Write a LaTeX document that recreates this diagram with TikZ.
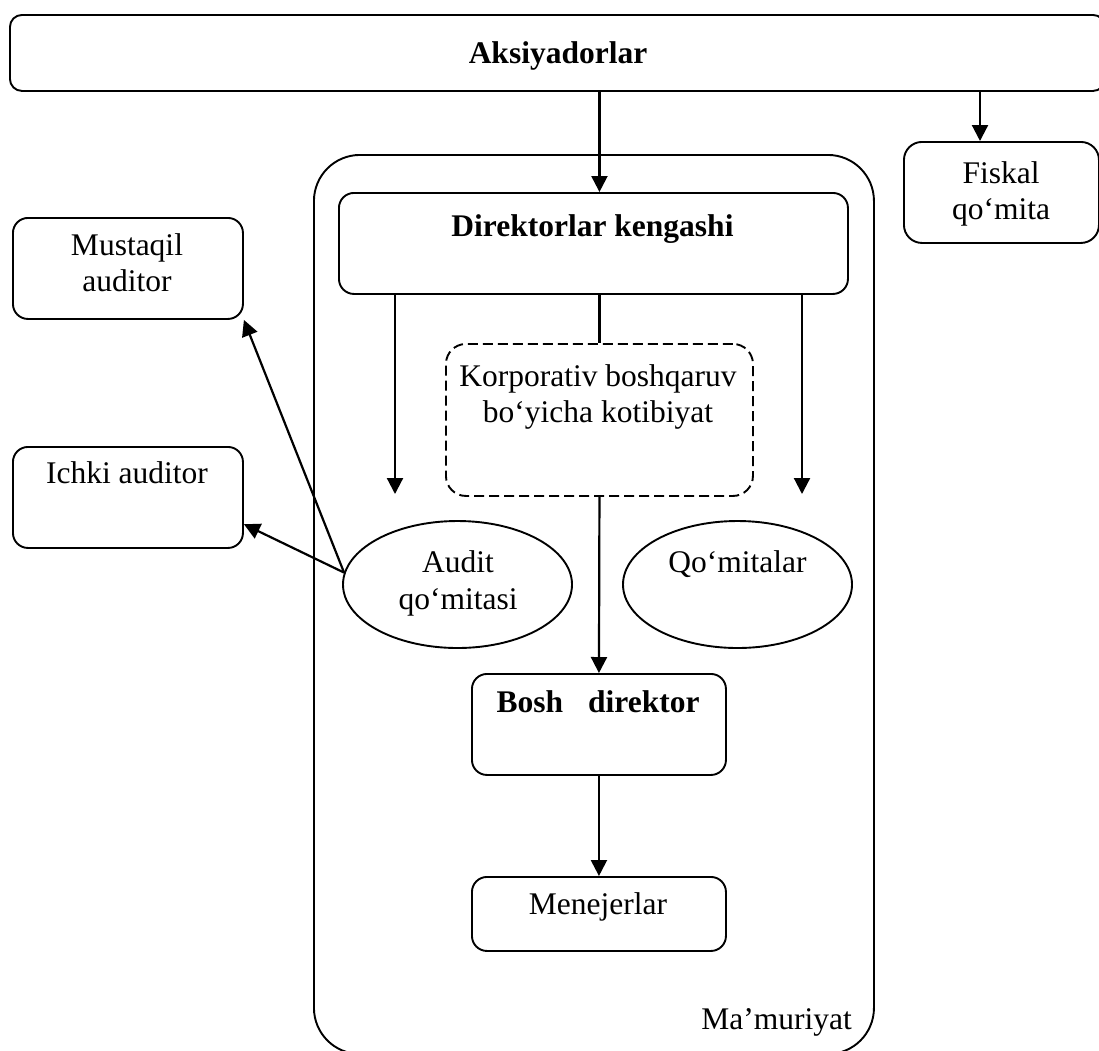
\documentclass[tikz,border=0pt]{standalone}
\usepackage{fontspec}
\setmainfont{Liberation Serif}
\usetikzlibrary{arrows.meta,shapes.geometric}
\tikzset{
  box/.style={draw, line width=1.9pt, rounded corners=15pt, inner sep=0pt, anchor=north west},
  dashbox/.style={box, dash pattern=on 10pt off 5pt, rounded corners=20pt},
  oval/.style={draw, ellipse, line width=1.9pt, inner sep=0pt, minimum width=229pt, minimum height=127pt},
  txt/.style={font=\fontsize{31.5}{36.5}\selectfont, inner sep=0pt, align=center},
  arr/.style={line width=2.2pt, -{Triangle[width=16pt,length=16pt]}},
  conn/.style={line width=2.2pt}
}
\begin{document}
\begin{tikzpicture}[x=1pt,y=-1pt]
\useasboundingbox (0,0) rectangle (1099,1050);
\clip (0,0) rectangle (1099,1050);
\fill[white] (0,0) rectangle (1099,1050);

% boxes
\node[box, rounded corners=12pt, minimum width=1095pt, minimum height=76pt] (aks) at (9,14) {};
\node[box, rounded corners=46pt, minimum width=560pt, minimum height=899pt] (mam) at (313,154) {};
\node[box, minimum width=509pt, minimum height=101pt] (dk) at (338,192) {};
\node[box, rounded corners=18pt, minimum width=195pt, minimum height=101pt] (fis) at (903,141) {};
\node[box, minimum width=230pt, minimum height=101pt] (must) at (12,217) {};
\node[box, minimum width=230pt, minimum height=101pt] (ichki) at (12,446) {};
\node[dashbox, minimum width=307pt, minimum height=152pt] (kor) at (445,343) {};
\node[oval] (aud) at (457.5,584.5) {};
\node[oval] (qom) at (737.5,584.5) {};
\node[box, minimum width=254pt, minimum height=101pt] (bd) at (471,673) {};
\node[box, minimum width=254pt, minimum height=74pt] (men) at (471,876) {};

% texts
\node[txt, anchor=base] (akst) at (558,63) {\bfseries Aksiyadorlar};
\node[txt, anchor=base] (dkt) at (592.5,236) {\bfseries Direktorlar kengashi};
\node[txt] (fist) at (1001,194) {Fiskal\\qo‘mita};
\node[txt] (mustt) at (127,262.5) {Mustaqil\\auditor};
\node[txt, anchor=base] (ichkit) at (127,483.5) {Ichki auditor};
\node[txt] (kort) at (598,397) {Korporativ boshqaruv\\bo‘yicha kotibiyat};
\node[txt] (audt) at (458,583.5) {Audit\\qo‘mitasi};
\node[txt, anchor=base] (qomt) at (737.5,572.5) {Qo‘mitalar};
\node[txt, anchor=base] (bdt) at (598,712) {\bfseries Bosh\hspace{25pt}direktor};
\node[txt, anchor=base] (ment) at (598,914) {Menejerlar};
\node[txt, anchor=base] (mamt) at (776.7,1029) {Ma’muriyat};

% connectors
\coordinate (fx) at (980,0);
\coordinate (a1) at (395,494);
\coordinate (q1) at (802,494);
\draw[arr] (aks.south -| kor.north) -- (dk.north -| kor.north);
\draw[arr] (aks.south -| fx) -- (fis.north -| fx);
\draw[conn] (dk.south -| kor.north) -- (kor.north);
\draw[arr] (dk.south -| a1) -- (a1);
\draw[arr] (dk.south -| q1) -- (q1);
\draw[arr] (kor.south) -- (bd.north);
\draw[arr] (bd.south) -- (men.north);
\draw[arr] (aud.174) -- (must.south east);
\draw[arr] (aud.174) -- (ichki.-13);
\end{tikzpicture}
\end{document}
